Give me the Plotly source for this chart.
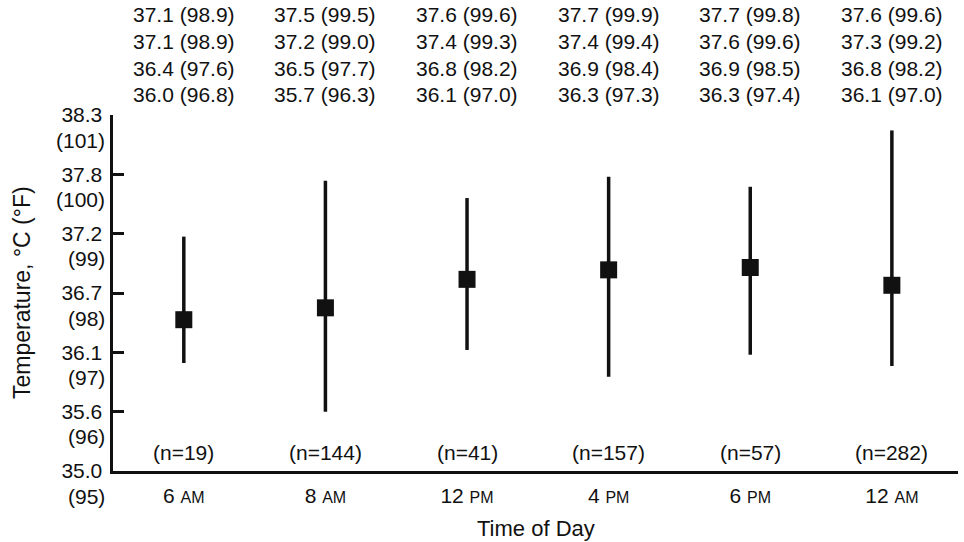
import plotly.graph_objects as go

# ---- data ----
times = ["6", "8", "12", "4", "6", "12"]
periods = ["AM", "AM", "PM", "PM", "PM", "AM"]
n_counts = [19, 144, 41, 157, 57, 282]

# plotted values (°F)
mean_f = [97.55, 97.75, 98.23, 98.39, 98.43, 98.13]
low_f = [96.82, 96.00, 97.04, 96.59, 96.96, 96.77]
high_f = [98.95, 99.89, 99.60, 99.96, 99.79, 100.74]

# statistics printed above the chart: °C and (°F)
row1_c = [37.1, 37.5, 37.6, 37.7, 37.7, 37.6]
row1_f = [98.9, 99.5, 99.6, 99.9, 99.8, 99.6]
row2_c = [37.1, 37.2, 37.4, 37.4, 37.6, 37.3]
row2_f = [98.9, 99.0, 99.3, 99.4, 99.6, 99.2]
row3_c = [36.4, 36.5, 36.8, 36.9, 36.9, 36.8]
row3_f = [97.6, 97.7, 98.2, 98.4, 98.5, 98.2]
row4_c = [36.0, 35.7, 36.1, 36.3, 36.3, 36.1]
row4_f = [96.8, 96.3, 97.0, 97.3, 97.4, 97.0]

# y ticks
tick_f = [95, 96, 97, 98, 99, 100, 101]
tick_c = ["35.0", "35.6", "36.1", "36.7", "37.2", "37.8", "38.3"]

FONT = "Liberation Sans, Arial, Helvetica, sans-serif"
FS = 21
INK = "#111111"

x = list(range(len(times)))
tick_text = [f"{t} <span style='font-size:16px'>{p}</span>" for t, p in zip(times, periods)]

fig = go.Figure()
fig.add_trace(go.Scatter(
    x=x, y=mean_f, mode="markers",
    marker=dict(symbol="square", size=17, color=INK, line=dict(width=0)),
    error_y=dict(type="data", symmetric=False,
                 array=[h - m for h, m in zip(high_f, mean_f)],
                 arrayminus=[m - l for m, l in zip(mean_f, low_f)],
                 width=0, thickness=3.5, color=INK),
    showlegend=False, hoverinfo="skip",
))

ann = []
rows = [(row1_c, row1_f), (row2_c, row2_f), (row3_c, row3_f), (row4_c, row4_f)]
row_shift = [101, 74, 47, 21]
for (rc, rf), ys in zip(rows, row_shift):
    for i, (c, f) in enumerate(zip(rc, rf)):
        ann.append(dict(x=i, xref="x", y=1, yref="paper", yanchor="middle",
                        yshift=ys, text=f"{c:.1f} ({f:.1f})", showarrow=False,
                        font=dict(family=FONT, size=FS, color=INK)))

for i, n in enumerate(n_counts):
    ann.append(dict(x=i, xref="x", y=tick_f[0], yref="y", yanchor="middle",
                    yshift=19, text=f"(n={n})", showarrow=False,
                    font=dict(family=FONT, size=FS, color=INK)))

for f in tick_f:
    ann.append(dict(x=0, xref="paper", xanchor="right", xshift=-6,
                    y=f, yref="y", yanchor="middle", yshift=-25,
                    text=f"({f})", showarrow=False,
                    font=dict(family=FONT, size=FS, color=INK)))

ann.append(dict(x=0.5, xref="paper", y=0, yref="paper", yanchor="middle",
                yshift=-57, text="Time of Day", showarrow=False,
                font=dict(family=FONT, size=FS + 1, color=INK)))
ann.append(dict(x=0, xref="paper", xanchor="center", xshift=-91,
                y=0.5, yref="paper", yanchor="middle", textangle=-90,
                text="Temperature, °C (°F)", showarrow=False,
                font=dict(family=FONT, size=FS + 2, color=INK)))

fig.update_layout(
    width=964, height=542,
    margin=dict(l=113, r=6, t=115, b=71),
    paper_bgcolor="white", plot_bgcolor="white",
    font=dict(family=FONT, size=FS, color=INK),
    annotations=ann,
    xaxis=dict(range=[-0.5, 5.467], tickvals=x, ticktext=tick_text,
               showgrid=False, zeroline=False, showline=True,
               linecolor=INK, linewidth=3, ticks="",
               tickfont=dict(family=FONT, size=FS, color=INK),
               ticklabelstandoff=4),
    yaxis=dict(range=[95, 101], tickvals=tick_f, ticktext=tick_c,
               showgrid=False, zeroline=False, showline=True,
               linecolor=INK, linewidth=3.5, ticks="inside", ticklen=11,
               tickwidth=3, tickcolor=INK,
               tickfont=dict(family=FONT, size=FS, color=INK),
               ticklabelstandoff=3),
)

fig.write_html("out.html",
               config={"displayModeBar": False, "staticPlot": True},
               post_script="document.body.style.margin='0';document.body.style.padding='0';")
